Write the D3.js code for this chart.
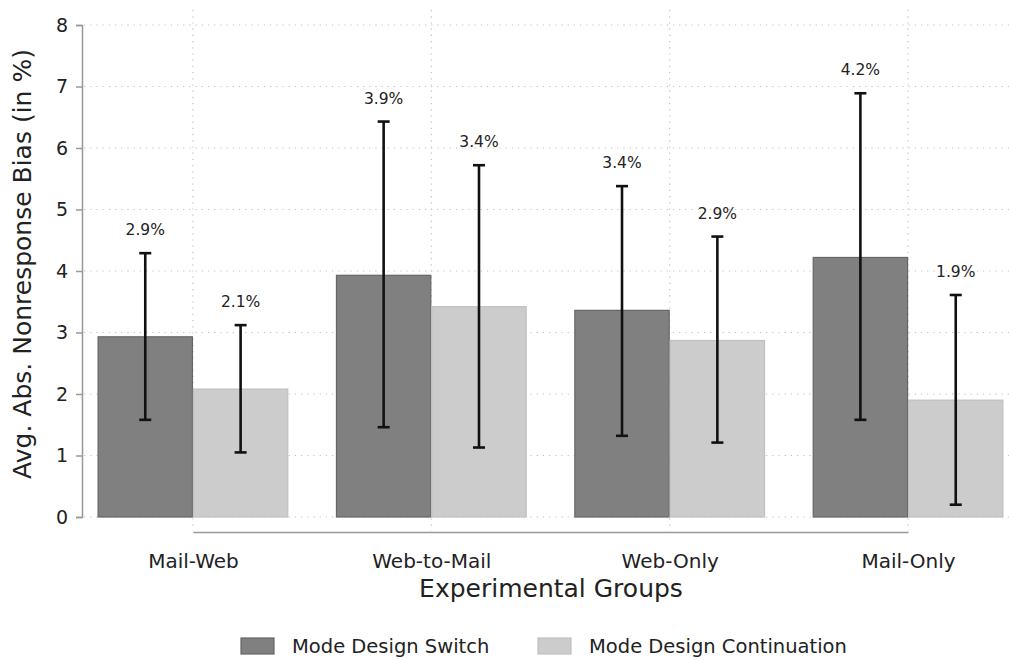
<!DOCTYPE html>
<html>
<head>
<meta charset="utf-8">
<script src="https://cdn.jsdelivr.net/npm/d3@7"></script>
<style>
  html, body { margin: 0; padding: 0; background: #fff; }
  svg { display: block; font-family: "DejaVu Sans", Verdana, sans-serif; }
</style>
</head>
<body>
<svg id="chart" width="1009" height="660"></svg>
<script>
// Average absolute nonresponse bias by experimental group and mode design
const groups = ["Mail-Web", "Web-to-Mail", "Web-Only", "Mail-Only"];
const seriesNames = ["Mode Design Switch", "Mode Design Continuation"];
const switchValues = [2.93, 3.93, 3.36, 4.22];
const switchLower = [1.58, 1.46, 1.32, 1.58];
const switchUpper = [4.29, 6.43, 5.38, 6.89];
const contValues = [2.08, 3.42, 2.87, 1.90];
const contLower = [1.05, 1.13, 1.21, 0.20];
const contUpper = [3.12, 5.72, 4.56, 3.61];
const yTicks = [0, 1, 2, 3, 4, 5, 6, 7, 8];

const colors = { fill: ["#808080", "#cccccc"], stroke: ["#666666", "#c0c0c0"] };
const FONT = "DejaVu Sans, Verdana, sans-serif";

const svg = d3.select("#chart");

const y = d3.scaleLinear().domain([0, 8]).range([517, 25]);
const x = d3.scaleBand().domain(groups).range([73.75, 1027.25]).paddingInner(0.2).paddingOuter(0.1);
const xs = d3.scaleBand().domain([0, 1]).range([0, x.bandwidth()]);

const rows = groups.map((g, i) => [
  { g, s: 0, v: switchValues[i], lo: switchLower[i], hi: switchUpper[i] },
  { g, s: 1, v: contValues[i], lo: contLower[i], hi: contUpper[i] }
]).flat();

const center = g => x(g) + x.bandwidth() / 2;

// horizontal dotted grid
svg.append("g").selectAll("line").data(yTicks).join("line")
  .attr("x1", 84).attr("x2", 1009)
  .attr("y1", d => y(d)).attr("y2", d => y(d))
  .attr("stroke", "#c0c0c0").attr("stroke-width", 1.2)
  .attr("stroke-dasharray", "1.2,5");

// vertical dotted grid at group centres
svg.append("g").selectAll("line").data(groups).join("line")
  .attr("x1", d => center(d)).attr("x2", d => center(d))
  .attr("y1", 10).attr("y2", 531)
  .attr("stroke", "#c0c0c0").attr("stroke-width", 1.2)
  .attr("stroke-dasharray", "1.2,5");

// bars
svg.append("g").selectAll("rect").data(rows).join("rect")
  .attr("x", d => x(d.g) + xs(d.s) + 0.5)
  .attr("width", xs.bandwidth() - 1)
  .attr("y", d => y(d.v))
  .attr("height", d => y(0) - y(d.v))
  .attr("fill", d => colors.fill[d.s])
  .attr("stroke", d => colors.stroke[d.s])
  .attr("stroke-width", 1.2);

// error bars
const eb = svg.append("g").attr("stroke", "#111").attr("stroke-width", 2.6);
const ex = d => x(d.g) + xs(d.s) + xs.bandwidth() / 2;
eb.selectAll("line.v").data(rows).join("line").attr("class", "v")
  .attr("x1", ex).attr("x2", ex)
  .attr("y1", d => y(d.lo)).attr("y2", d => y(d.hi));
eb.selectAll("line.t").data(rows).join("line").attr("class", "t")
  .attr("x1", d => ex(d) - 6).attr("x2", d => ex(d) + 6)
  .attr("y1", d => y(d.hi)).attr("y2", d => y(d.hi));
eb.selectAll("line.b").data(rows).join("line").attr("class", "b")
  .attr("x1", d => ex(d) - 6).attr("x2", d => ex(d) + 6)
  .attr("y1", d => y(d.lo)).attr("y2", d => y(d.lo));

// value labels
svg.append("g").selectAll("text").data(rows).join("text")
  .attr("x", ex)
  .attr("y", d => y(d.hi) - 18)
  .attr("text-anchor", "middle")
  .attr("font-size", 15.5)
  .attr("fill", "#222")
  .text(d => d.v.toFixed(1) + "%");

// y axis
const yAxis = svg.append("g").attr("transform", "translate(82,0)")
  .call(d3.axisLeft(y).tickValues(yTicks).tickSize(6).tickPadding(8).tickFormat(d3.format("d")));
yAxis.select(".domain").attr("stroke", "#999").attr("stroke-width", 1.5);
yAxis.selectAll(".tick line").attr("stroke", "#999").attr("stroke-width", 1.5);
yAxis.selectAll(".tick text").attr("font-size", 19).attr("fill", "#222").attr("font-family", FONT);

// x axis
const xAxis = svg.append("g").attr("transform", "translate(0,532)")
  .call(d3.axisBottom(d3.scalePoint().domain(groups).range([center(groups[0]), center(groups[3])]))
    .tickSize(0).tickPadding(22));
xAxis.select(".domain").attr("stroke", "#999").attr("stroke-width", 1.5);
xAxis.selectAll(".tick text").attr("font-size", 20).attr("fill", "#222").attr("font-family", FONT);

// axis titles
svg.append("text")
  .attr("transform", "translate(31,264) rotate(-90)")
  .attr("text-anchor", "middle")
  .attr("font-size", 25).attr("fill", "#222")
  .text("Avg. Abs. Nonresponse Bias (in %)");
svg.append("text")
  .attr("x", 551).attr("y", 597)
  .attr("text-anchor", "middle")
  .attr("font-size", 25).attr("fill", "#222")
  .text("Experimental Groups");

// legend
const legend = svg.append("g");
const legendX = [241, 538];
seriesNames.forEach((name, i) => {
  legend.append("rect")
    .attr("x", legendX[i]).attr("y", 638).attr("width", 33).attr("height", 16)
    .attr("fill", colors.fill[i]).attr("stroke", colors.stroke[i]).attr("stroke-width", 1.2);
  legend.append("text")
    .attr("x", legendX[i] + 51).attr("y", 653)
    .attr("font-size", 19.5).attr("fill", "#222")
    .text(name);
});
</script>
</body>
</html>
